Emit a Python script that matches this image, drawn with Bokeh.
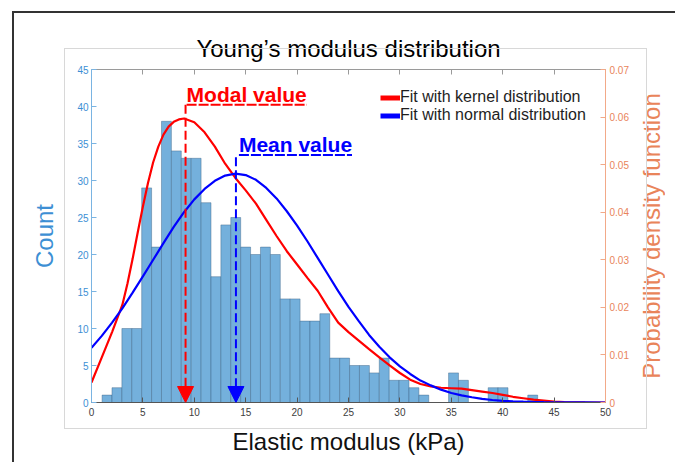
import numpy as np
from bokeh.plotting import figure
from bokeh.layouts import row
from bokeh.models import (Range1d, LinearAxis, FixedTicker, Label, Arrow, NormalHead,
                          Legend, LegendItem, InlineStyleSheet)
from bokeh.embed import file_html
from bokeh.resources import INLINE

# ---------------- data ----------------
bin_start = 1.03          # kPa, left edge of first histogram bin
bin_width = 0.963         # kPa
counts = [1, 2, 10, 10, 29, 21, 38, 34, 33, 33, 27, 17, 24, 25, 21, 20, 21, 20, 14, 14,
          11, 11, 12, 6, 6, 5, 5, 4, 6, 3, 3, 2, 1, 0, 0, 4, 3, 0, 0, 2, 2, 0, 0, 1]

kernel_x = [0, 1, 2, 3, 3.5, 4, 4.5, 5, 5.5, 6, 6.5, 7, 7.5, 8, 8.5, 9, 10, 11, 12, 13,
            14, 15, 16, 17, 18, 19, 20, 21, 22, 23, 24, 25, 26, 27, 28, 29, 30, 31, 32,
            33, 34, 35, 36, 37, 38, 39, 40, 41, 42, 43, 44, 45, 46, 48, 50]
kernel_pdf = [0.0042, 0.0095, 0.0148, 0.0205, 0.0250, 0.0302, 0.0358, 0.0412, 0.0462,
              0.0505, 0.0538, 0.0563, 0.0580, 0.0590, 0.0595, 0.0597, 0.0589, 0.0568,
              0.0538, 0.0502, 0.0472, 0.0446, 0.0418, 0.0384, 0.0350, 0.0318, 0.0290,
              0.0262, 0.0235, 0.0200, 0.0168, 0.0148, 0.0130, 0.0112, 0.0095, 0.0078,
              0.0062, 0.0048, 0.0039, 0.0034, 0.0031, 0.0030, 0.0029, 0.0026, 0.0023,
              0.0020, 0.0016, 0.0012, 0.0009, 0.0006, 0.0004, 0.0002, 0.0001, 0.00003,
              0.0]

normal_x = [0, 1, 2, 3, 4, 5, 6, 7, 8, 9, 10, 11, 12, 13, 14, 15, 16, 17, 18, 19, 20,
            21, 22, 23, 24, 25, 26, 27, 28, 29, 30, 31, 32, 33, 34, 35, 36, 37, 38, 39,
            40, 41, 42, 43, 44, 45, 46, 48, 50]
normal_pdf = [0.0115, 0.0140, 0.0168, 0.0198, 0.0231, 0.0265, 0.0300, 0.0335, 0.0369,
              0.0400, 0.0427, 0.0449, 0.0466, 0.0477, 0.0481, 0.0478, 0.0468, 0.0451,
              0.0429, 0.0402, 0.0372, 0.0339, 0.0304, 0.0269, 0.0234, 0.0201, 0.0171,
              0.0142, 0.0117, 0.0095, 0.0076, 0.0060, 0.0046, 0.0036, 0.0027, 0.0020,
              0.0015, 0.0011, 0.00075, 0.00053, 0.00036, 0.00025, 0.00017, 0.00011,
              0.00007, 0.00005, 0.00003, 0.00001, 0.0]

modal_value = 9.15        # kPa
mean_value = 14.05        # kPa

x_ticks = [0, 5, 10, 15, 20, 25, 30, 35, 40, 45, 50]
count_ticks = [0, 5, 10, 15, 20, 25, 30, 35, 40, 45]
pdf_ticks = [0, 0.01, 0.02, 0.03, 0.04, 0.05, 0.06, 0.07]

title_text = "Young’s modulus distribution"
x_label = "Elastic modulus (kPa)"
left_label = "Count"
right_label = "Probability density function"
legend_labels = ["Fit with kernel distribution", "Fit with normal distribution"]

# ---------------- styles ----------------
FONT = "Liberation Sans"
BLUE_AX = "#3d8fd4"
BLUE_AX_LINE = "#7ab4e2"
ORANGE_AX = "#e9845a"
ORANGE_AX_LINE = "#f2a988"
RED = "#ff0000"
BLUE = "#0000ff"

frame_css = InlineStyleSheet(css="""
:host { position: relative; }
:host::before {
  content: ""; position: absolute; left: 12px; top: 11px; width: 663px; height: 451px;
  border-left: 2px solid #333333; border-top: 2px solid #333333;
  box-sizing: border-box; pointer-events: none; z-index: 100;
}
:host::after {
  content: ""; position: absolute; left: 64px; top: 48px; width: 583px; height: 381px;
  border: 1px solid #d8d8d8; box-sizing: border-box; pointer-events: none; z-index: 100;
}
""")

FRAME_H = 333
TOP, BOTTOM = 69, 60

p = figure(frame_width=514, frame_height=FRAME_H,
           min_border_left=91, min_border_right=29, min_border_top=TOP,
           min_border_bottom=BOTTOM,
           x_range=Range1d(0, 50), y_range=Range1d(0, 45),
           output_backend="svg", toolbar_location=None,
           x_axis_location=None, y_axis_location=None)
p.extra_y_ranges = {"pdf": Range1d(0, 0.07), "legend_only": Range1d(1, 2)}
p.grid.visible = False
p.outline_line_color = None
p.background_fill_color = "white"
p.border_fill_color = "white"

p.title.text = title_text
p.title.align = "center"
p.title.text_font = FONT
p.title.text_font_size = "24px"
p.title.text_font_style = "normal"
p.title.text_color = "#000000"
p.title.standoff = 15


def style_axis(ax, line_color, text_color):
    ax.axis_line_color = line_color
    ax.axis_line_width = 1
    ax.major_tick_line_color = line_color
    ax.major_tick_in = 5
    ax.major_tick_out = 0
    ax.minor_tick_line_color = None
    ax.major_label_text_font = FONT
    ax.major_label_text_font_size = "10px"
    ax.major_label_text_color = text_color
    ax.major_label_standoff = 4
    ax.axis_label_text_font = FONT
    ax.axis_label_text_font_size = "24px"
    ax.axis_label_text_font_style = "normal"


xb = LinearAxis(ticker=FixedTicker(ticks=x_ticks), axis_label=x_label)
style_axis(xb, "#555555", "#404040")
xb.major_label_standoff = 5
xb.axis_label_text_color = "#111111"
xb.axis_label_standoff = 9
p.add_layout(xb, "below")

# top box edge with inward ticks, no labels
xt = LinearAxis(ticker=FixedTicker(ticks=x_ticks))
style_axis(xt, "#9a9a9a", None)
xt.major_label_standoff = 0
p.add_layout(xt, "above")

yl = LinearAxis(ticker=FixedTicker(ticks=count_ticks), axis_label=left_label)
style_axis(yl, BLUE_AX_LINE, BLUE_AX)
yl.major_label_standoff = 3
yl.axis_label_text_color = BLUE_AX
yl.axis_label_standoff = 16
p.add_layout(yl, "left")

# right spine with ticks
yr = LinearAxis(y_range_name="pdf", ticker=FixedTicker(ticks=pdf_ticks))
style_axis(yr, ORANGE_AX_LINE, ORANGE_AX)
p.add_layout(yr, "right")

# histogram
edges = bin_start + bin_width * np.arange(len(counts) + 1)
p.quad(left=edges[:-1], right=edges[1:], bottom=0, top=counts,
       fill_color="#74b0dc", fill_alpha=1.0, line_color="#3c6385", line_alpha=0.55,
       line_width=0.8)

# fitted curves
p.line(kernel_x, kernel_pdf, y_range_name="pdf", line_color=RED, line_width=2.2)
p.line(normal_x, normal_pdf, y_range_name="pdf", line_color=BLUE, line_width=2.2)

# legend samples (thick) -- drawn on an off-scale range so only the legend shows them
lk = p.line(kernel_x, kernel_pdf, y_range_name="legend_only", line_color=RED, line_width=5)
ln = p.line(normal_x, normal_pdf, y_range_name="legend_only", line_color=BLUE, line_width=5)
legend = Legend(items=[LegendItem(label=legend_labels[0], renderers=[lk]),
                       LegendItem(label=legend_labels[1], renderers=[ln])],
                location=(289, 278), orientation="vertical",
                glyph_width=20, glyph_height=17, label_height=17, label_standoff=0,
                spacing=0, padding=0, margin=0,
                label_text_font=FONT, label_text_font_size="16px",
                label_text_color="#1e1e1e",
                border_line_color=None, background_fill_alpha=0)
p.add_layout(legend, "center")

# annotations: modal and mean arrows
modal_label = dict(x=9.25, y=41.6, line=40.23)
mean_label = dict(x=14.34, y=34.9, line=33.45)
p.add_layout(Label(x=modal_label["x"], y=modal_label["y"], text="Modal value",
                   text_font=FONT, text_font_size="21px", text_font_style="bold",
                   text_color=RED, text_align="left", text_baseline="middle"))
p.add_layout(Label(x=mean_label["x"], y=mean_label["y"], text="Mean value",
                   text_font=FONT, text_font_size="21px", text_font_style="bold",
                   text_color=BLUE, text_align="left", text_baseline="middle"))
# underlines below the annotation words
p.segment(x0=[modal_label["x"]], x1=[modal_label["x"] + 11.7],
          y0=[modal_label["line"]], y1=[modal_label["line"]],
          line_color=RED, line_width=2, line_dash="10 2")
p.segment(x0=[mean_label["x"]], x1=[mean_label["x"] + 11.0],
          y0=[mean_label["line"]], y1=[mean_label["line"]],
          line_color=BLUE, line_width=2, line_dash="10 2")

p.add_layout(Arrow(end=NormalHead(size=16, fill_color=RED, line_color=RED),
                   x_start=modal_value, y_start=modal_label["line"],
                   x_end=modal_value, y_end=0,
                   line_color=RED, line_width=2, line_dash="9 4"))
p.add_layout(Arrow(end=NormalHead(size=16, fill_color=BLUE, line_color=BLUE),
                   x_start=mean_value, y_start=mean_label["line"] - 0.3,
                   x_end=mean_value, y_end=0,
                   line_color=BLUE, line_width=2, line_dash="9 4"))

# narrow companion figure carrying the right-hand axis title (reads bottom-to-top)
p2 = figure(frame_width=1, frame_height=FRAME_H,
            min_border_left=27, min_border_right=0, min_border_top=TOP,
            min_border_bottom=BOTTOM,
            x_range=Range1d(0, 1), y_range=Range1d(0, 0.07),
            output_backend="svg", toolbar_location=None,
            x_axis_location=None, y_axis_location=None)
p2.grid.visible = False
p2.outline_line_color = None
p2.background_fill_alpha = 0
p2.border_fill_alpha = 0
ylab = LinearAxis(ticker=FixedTicker(ticks=[]), axis_label=right_label)
style_axis(ylab, None, None)
ylab.major_tick_line_color = None
ylab.major_tick_in = 0
ylab.major_label_standoff = 0
ylab.axis_label_text_color = ORANGE_AX
ylab.axis_label_standoff = 0
p2.add_layout(ylab, "left")

layout = row(p, p2, spacing=0, stylesheets=[frame_css])

open("out.html", "w").write(file_html(layout, INLINE))
